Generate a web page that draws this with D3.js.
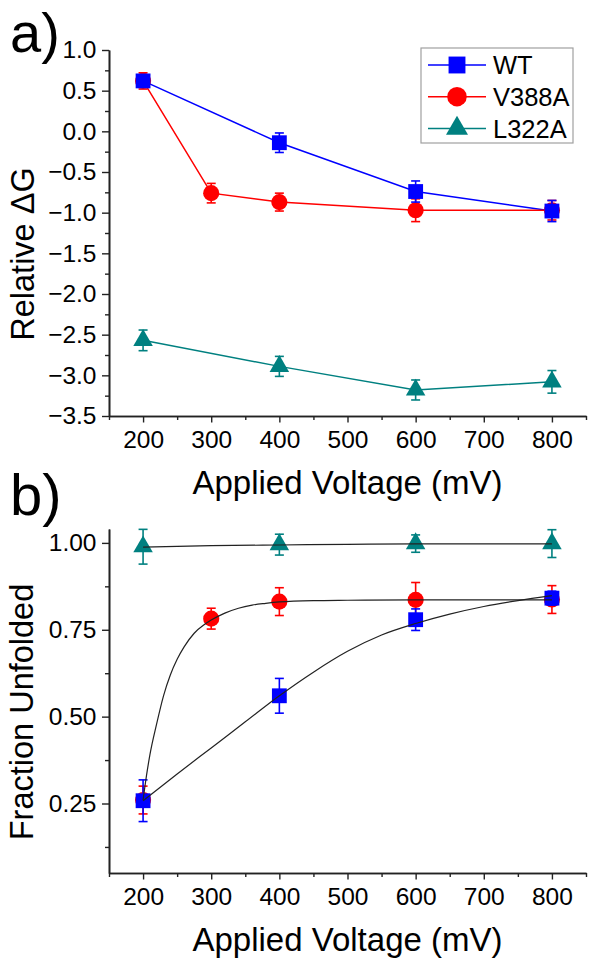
<!DOCTYPE html>
<html><head><meta charset="utf-8">
<script src="https://cdn.jsdelivr.net/npm/d3@7"></script>
<style>body{margin:0;background:#fff}</style>
</head><body><svg id="c" width="594" height="967"></svg>
<script>
// ---------- data ----------
const seriesNames = ["WT", "V388A", "L322A"];
const seriesColors = ["#0000ff", "#ff0000", "#008080"];

// panel a: Relative ΔG
const xWT = [200, 400, 600, 800];
const xV388A = [200, 300, 400, 600, 800];
const xL322A = [200, 400, 600, 800];
const dgWT = [0.62, -0.14, -0.74, -0.98];
const dgWTerr = [0.07, 0.12, 0.13, 0.13];
const dgV388A = [0.62, -0.76, -0.87, -0.97, -0.97];
const dgV388Aerr = [0.10, 0.12, 0.11, 0.14, 0.12];
const dgL322A = [-2.57, -2.89, -3.18, -3.08];
const dgL322Aerr = [0.127, 0.123, 0.123, 0.139];

// panel b: Fraction Unfolded
const fuWT = [0.258, 0.56, 0.779, 0.841];
const fuWTerr = [0.06, 0.05, 0.031, 0.02];
const fuV388A = [0.26, 0.782, 0.831, 0.836, 0.837];
const fuV388Aerr = [0.04, 0.03, 0.04, 0.05, 0.04];
const fuL322A = [0.989, 0.995, 0.998, 0.998];
const fuL322Aerr = [0.05, 0.03, 0.025, 0.04];

// fitted curves
const fitWTx = [200, 250, 300, 350, 400, 450, 500, 550, 600, 650, 700, 750, 800];
const fitWTy = [0.258, 0.335, 0.41, 0.485, 0.56, 0.628, 0.688, 0.735, 0.768, 0.795, 0.817, 0.834, 0.848];
const fitV388Ax = [200, 205, 210, 220, 230, 240, 250, 260, 275, 290, 300, 320, 340, 360, 380, 400, 450, 500, 600, 700, 800];
const fitV388Ay = [0.26, 0.33, 0.39, 0.48, 0.56, 0.62, 0.665, 0.70, 0.74, 0.765, 0.778, 0.798, 0.812, 0.821, 0.826, 0.83, 0.834, 0.835, 0.836, 0.836, 0.836];
const fitL322Ax = [200, 300, 400, 500, 600, 700, 800];
const fitL322Ay = [0.988, 0.992, 0.994, 0.996, 0.997, 0.997, 0.997];

// axes ticks
const xMajor = [200, 300, 400, 500, 600, 700, 800];
const xMinor = [150, 250, 350, 450, 550, 650, 750, 850];
const yaMajor = [1.0, 0.5, 0.0, -0.5, -1.0, -1.5, -2.0, -2.5, -3.0, -3.5];
const yaMinor = [0.75, 0.25, -0.25, -0.75, -1.25, -1.75, -2.25, -2.75, -3.25];
const ybMajor = [0.25, 0.50, 0.75, 1.00];
const ybMinor = [0.125, 0.375, 0.625, 0.875];

// ---------- drawing ----------
const svg = d3.select("#c");
const FONT = "'Liberation Sans', Arial, sans-serif";
const axisColor = "#222";

const x = d3.scaleLinear().domain([150, 850]).range([109, 586]);
const yA = d3.scaleLinear().domain([-3.5, 1.0]).range([416, 50]);
const yB = d3.scaleLinear().domain([0.05, 1.04]).range([873, 529]);

const symbols = [d3.symbolSquare, d3.symbolCircle, d3.symbolTriangle];
const symSizes = [220, 205, 165];
const legSizes = [285, 300, 210];

function drawAxes(g, y, yMaj, yMin, yFmt, bottomY) {
  g.append("g").attr("transform", `translate(0,${bottomY})`)
    .call(d3.axisBottom(x).tickValues(xMajor).tickSize(6.5).tickSizeOuter(0).tickPadding(8).tickFormat(d3.format("d")));
  g.append("g").attr("transform", `translate(0,${bottomY})`)
    .call(d3.axisBottom(x).tickValues(xMinor).tickSize(4).tickSizeOuter(0).tickFormat(""));
  g.append("g").attr("transform", `translate(109,0)`)
    .call(d3.axisLeft(y).tickValues(yMaj).tickSize(7).tickSizeOuter(0).tickPadding(5.5).tickFormat(yFmt));
  g.append("g").attr("transform", `translate(109,0)`)
    .call(d3.axisLeft(y).tickValues(yMin).tickSize(4).tickSizeOuter(0).tickFormat(""));
  g.selectAll(".domain").attr("stroke", axisColor).attr("stroke-width", 1.6);
  g.selectAll(".tick line").attr("stroke", axisColor).attr("stroke-width", 1.4);
  g.selectAll(".tick text").attr("font-family", FONT).attr("font-size", 24.5).attr("fill", "#000");
}

function errBars(g, xs, ys, es, y, color) {
  const cap = 4.5;
  xs.forEach((xv, i) => {
    const cx = x(xv), t = y(ys[i] + es[i]), b = y(ys[i] - es[i]);
    g.append("line").attr("x1", cx).attr("x2", cx).attr("y1", t).attr("y2", b)
      .attr("stroke", color).attr("stroke-width", 1.6);
    [t, b].forEach(v => g.append("line").attr("x1", cx - cap).attr("x2", cx + cap)
      .attr("y1", v).attr("y2", v).attr("stroke", color).attr("stroke-width", 1.6));
  });
}
function markers(g, xs, ys, y, si) {
  g.selectAll(null).data(xs).enter().append("path")
    .attr("d", d3.symbol().type(symbols[si]).size(symSizes[si]))
    .attr("transform", (d, i) => `translate(${x(d)},${y(ys[i])})`)
    .attr("fill", seriesColors[si]);
}

// ===== Panel a =====
const ga = svg.append("g");
drawAxes(ga, yA, yaMajor, yaMinor, d3.format(".1f"), 416);
const panelA = [
  [xWT, dgWT, dgWTerr],
  [xV388A, dgV388A, dgV388Aerr],
  [xL322A, dgL322A, dgL322Aerr]
];
const lineA = d3.line().x(d => x(d[0])).y(d => yA(d[1]));
panelA.forEach((s, si) => {
  ga.append("path").datum(s[0].map((v, i) => [v, s[1][i]]))
    .attr("d", lineA).attr("fill", "none").attr("stroke", seriesColors[si]).attr("stroke-width", 1.5);
});
[2, 1, 0].forEach(si => {
  const s = panelA[si];
  errBars(ga, s[0], s[1], s[2], yA, seriesColors[si]);
  markers(ga, s[0], s[1], yA, si);
});

// legend
const lg = svg.append("g");
lg.append("rect").attr("x", 421).attr("y", 48).attr("width", 152).attr("height", 95)
  .attr("fill", "#fff").attr("stroke", "#a0a0a0").attr("stroke-width", 1.2);
seriesNames.forEach((n, i) => {
  const yy = 65 + i * 31.7;
  lg.append("line").attr("x1", 428).attr("x2", 486).attr("y1", yy).attr("y2", yy)
    .attr("stroke", seriesColors[i]).attr("stroke-width", 1.5);
  lg.append("path").attr("d", d3.symbol().type(symbols[i]).size(legSizes[i]))
    .attr("transform", `translate(457,${yy})`).attr("fill", seriesColors[i]);
  lg.append("text").attr("x", 493).attr("y", yy + 9.3).text(n)
    .attr("font-family", FONT).attr("font-size", 25.5).attr("fill", "#000");
});

// ===== Panel b =====
const gb = svg.append("g");
drawAxes(gb, yB, ybMajor, ybMinor, d3.format(".2f"), 873);
const fitLine = d3.line().x(d => x(d[0])).y(d => yB(d[1])).curve(d3.curveMonotoneX);
const fits = [[fitWTx, fitWTy], [fitV388Ax, fitV388Ay], [fitL322Ax, fitL322Ay]];
const panelB = [
  [xWT, fuWT, fuWTerr],
  [xV388A, fuV388A, fuV388Aerr],
  [xL322A, fuL322A, fuL322Aerr]
];
[2, 1, 0].forEach(si => {
  const s = panelB[si];
  errBars(gb, s[0], s[1], s[2], yB, seriesColors[si]);
  markers(gb, s[0], s[1], yB, si);
});
// fit lines drawn over the markers (as in the original)
fits.forEach(f => {
  gb.append("path").datum(f[0].map((v, i) => [v, f[1][i]]))
    .attr("d", fitLine).attr("fill", "none").attr("stroke", "#222").attr("stroke-width", 1.2);
});

// ===== titles =====
function txt(xp, yp, s, size, rot) {
  const t = svg.append("text").attr("font-family", FONT).attr("font-size", size).attr("fill", "#000").text(s);
  if (rot) t.attr("transform", `translate(${xp},${yp}) rotate(-90)`).attr("text-anchor", "middle");
  else t.attr("x", xp).attr("y", yp);
  return t;
}
txt(347.5, 494, "Applied Voltage (mV)", 33).attr("text-anchor", "middle");
txt(347.5, 951, "Applied Voltage (mV)", 33).attr("text-anchor", "middle");
txt(34, 254, "Relative \u0394G", 32.5, true);
txt(33, 712, "Fraction Unfolded", 32.5, true);
txt(10, 52, "a)", 56);
txt(10, 515, "b)", 58);
</script></body></html>
